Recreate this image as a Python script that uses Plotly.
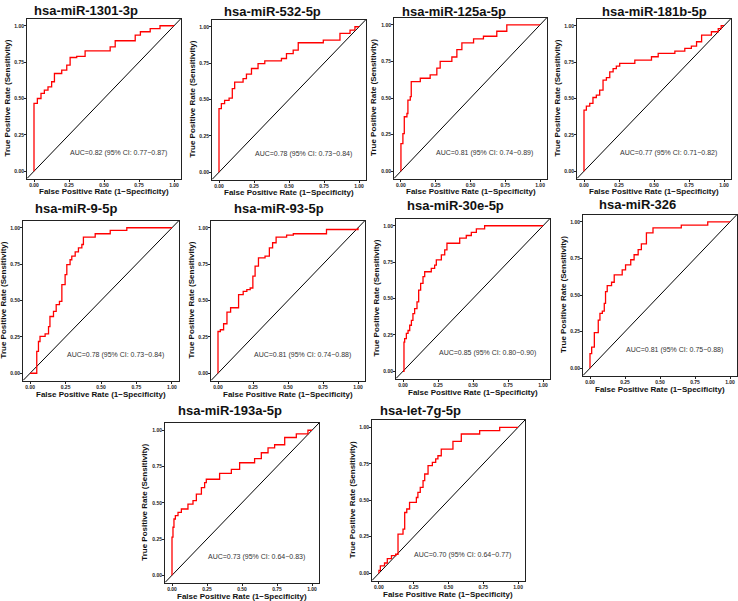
import plotly.graph_objects as go

W, H = 738, 601

titles = ["hsa-miR-1301-3p", "hsa-miR-532-5p", "hsa-miR-125a-5p", "hsa-miR-181b-5p",
          "hsa-miR-9-5p", "hsa-miR-93-5p", "hsa-miR-30e-5p", "hsa-miR-326",
          "hsa-miR-193a-5p", "hsa-let-7g-5p"]

auc_labels = ["AUC=0.82 (95% CI: 0.77\u22120.87)", "AUC=0.78 (95% CI: 0.73\u22120.84)",
              "AUC=0.81 (95% CI: 0.74\u22120.89)", "AUC=0.77 (95% CI: 0.71\u22120.82)",
              "AUC=0.78 (95% CI: 0.73\u22120.84)", "AUC=0.81 (95% CI: 0.74\u22120.88)",
              "AUC=0.85 (95% CI: 0.80\u22120.90)", "AUC=0.81 (95% CI: 0.75\u22120.88)",
              "AUC=0.73 (95% CI: 0.64\u22120.83)", "AUC=0.70 (95% CI: 0.64\u22120.77)"]

fpr1 = [0, 0, 0.024, 0.05, 0.074, 0.1, 0.126, 0.146, 0.198, 0.234, 0.258, 0.305, 0.365, 0.544, 0.58, 0.723, 0.76, 0.83, 0.9, 1.0]
tpr1 = [0, 0.466, 0.5, 0.535, 0.557, 0.58, 0.615, 0.672, 0.695, 0.729, 0.782, 0.79, 0.828, 0.855, 0.897, 0.936, 0.959, 0.98, 1.0, 1.0]

fpr2 = [0, 0, 0.017, 0.04, 0.072, 0.095, 0.112, 0.172, 0.196, 0.232, 0.279, 0.327, 0.446, 0.482, 0.53, 0.566, 0.745, 0.864, 0.936, 0.971, 1.0]
tpr2 = [0, 0.437, 0.471, 0.494, 0.51, 0.575, 0.62, 0.644, 0.674, 0.713, 0.747, 0.766, 0.782, 0.816, 0.839, 0.89, 0.908, 0.954, 0.977, 1.0, 1.0]

fpr3 = [0, 0, 0.014, 0.024, 0.043, 0.05, 0.067, 0.074, 0.139, 0.21, 0.258, 0.282, 0.366, 0.402, 0.438, 0.522, 0.593, 0.689, 0.761, 1.0]
tpr3 = [0, 0.188, 0.257, 0.372, 0.394, 0.486, 0.509, 0.612, 0.635, 0.658, 0.704, 0.75, 0.78, 0.83, 0.876, 0.904, 0.922, 0.956, 1.0, 1.0]

fpr4 = [0, 0, 0.017, 0.041, 0.064, 0.088, 0.112, 0.136, 0.16, 0.184, 0.208, 0.231, 0.255, 0.363, 0.482, 0.53, 0.649, 0.72, 0.767, 0.804, 0.84, 0.91, 0.959, 0.98, 1.0]
tpr4 = [0, 0.42, 0.447, 0.466, 0.507, 0.523, 0.557, 0.626, 0.644, 0.683, 0.706, 0.722, 0.741, 0.764, 0.787, 0.81, 0.826, 0.844, 0.86, 0.89, 0.936, 0.959, 0.98, 1.0, 1.0]

fpr5 = [0, 0.047, 0.059, 0.07, 0.106, 0.13, 0.14, 0.165, 0.184, 0.207, 0.224, 0.247, 0.259, 0.282, 0.294, 0.318, 0.341, 0.365, 0.376, 0.459, 0.565, 0.682, 1.0]
tpr5 = [0, 0.15, 0.218, 0.253, 0.27, 0.32, 0.39, 0.425, 0.471, 0.494, 0.609, 0.678, 0.747, 0.78, 0.805, 0.834, 0.862, 0.885, 0.936, 0.959, 0.982, 1.0, 1.0]

fpr6 = [0, 0, 0.017, 0.04, 0.064, 0.09, 0.147, 0.18, 0.206, 0.23, 0.249, 0.265, 0.289, 0.336, 0.367, 0.39, 0.415, 0.49, 0.538, 0.775, 1.0]
tpr6 = [0, 0.287, 0.299, 0.34, 0.42, 0.45, 0.54, 0.563, 0.575, 0.586, 0.667, 0.736, 0.793, 0.805, 0.862, 0.897, 0.936, 0.95, 0.959, 0.988, 1.0]

fpr7 = [0, 0.007, 0.012, 0.024, 0.036, 0.048, 0.06, 0.071, 0.083, 0.1, 0.112, 0.126, 0.143, 0.155, 0.202, 0.226, 0.238, 0.274, 0.298, 0.314, 0.405, 0.452, 0.488, 0.524, 0.583, 1.0]
tpr7 = [0, 0.2, 0.224, 0.26, 0.28, 0.316, 0.35, 0.396, 0.43, 0.477, 0.558, 0.604, 0.65, 0.684, 0.707, 0.73, 0.765, 0.8, 0.834, 0.88, 0.915, 0.933, 0.954, 0.979, 1.0, 1.0]

fpr8 = [0, 0, 0.012, 0.031, 0.059, 0.071, 0.088, 0.102, 0.111, 0.123, 0.154, 0.173, 0.23, 0.254, 0.291, 0.315, 0.344, 0.367, 0.403, 0.45, 0.652, 0.841, 1.0]
tpr8 = [0, 0.1, 0.144, 0.243, 0.328, 0.374, 0.39, 0.443, 0.523, 0.564, 0.587, 0.638, 0.672, 0.706, 0.741, 0.775, 0.81, 0.849, 0.924, 0.959, 0.977, 1.0, 1.0]

fpr9 = [0, 0, 0.007, 0.014, 0.024, 0.043, 0.067, 0.114, 0.15, 0.174, 0.21, 0.233, 0.245, 0.34, 0.424, 0.483, 0.59, 0.638, 0.686, 0.733, 0.805, 0.888, 0.971, 1.0]
tpr9 = [0, 0.263, 0.331, 0.388, 0.411, 0.434, 0.457, 0.491, 0.514, 0.559, 0.605, 0.639, 0.662, 0.703, 0.73, 0.776, 0.804, 0.845, 0.879, 0.9, 0.95, 0.975, 1.0, 1.0]

fpr10 = [0, 0, 0.01, 0.04, 0.06, 0.09, 0.12, 0.137, 0.173, 0.185, 0.2, 0.22, 0.269, 0.28, 0.297, 0.317, 0.329, 0.353, 0.384, 0.408, 0.424, 0.448, 0.532, 0.592, 0.724, 0.868, 1.0]
tpr10 = [0, 0.02, 0.05, 0.07, 0.1, 0.12, 0.13, 0.268, 0.302, 0.416, 0.44, 0.485, 0.519, 0.554, 0.588, 0.634, 0.68, 0.737, 0.76, 0.783, 0.805, 0.851, 0.904, 0.954, 0.977, 1.0, 1.0]

fprs = [fpr1, fpr2, fpr3, fpr4, fpr5, fpr6, fpr7, fpr8, fpr9, fpr10]
tprs = [tpr1, tpr2, tpr3, tpr4, tpr5, tpr6, tpr7, tpr8, tpr9, tpr10]

tick_vals = [0, 0.25, 0.5, 0.75, 1.0]
tick_text = ["0.00", "0.25", "0.50", "0.75", "1.00"]
axis_range = [-0.05, 1.05]
diag = [-0.05, 1.05]

# panel boxes in pixels: left, right, top, bottom
boxes = [(27, 181, 18.5, 178.5), (212, 366, 19.5, 179.5), (394, 547, 17.5, 178.5), (577, 731, 18.5, 178.5),
         (23, 179, 220.5, 380.5), (211, 365, 220.5, 380.5), (396, 550, 218.5, 378.5), (583, 737, 214.5, 375.5),
         (165, 319, 423, 582.5), (372, 525, 420, 580.5)]
# title positions (left x, center y) in pixels
title_pos = [(32, 11), (222, 12), (400, 12), (600, 12),
             (33, 208), (232, 208), (405, 206), (597, 205),
             (176, 411), (378, 411)]

FONT = "Liberation Sans, Arial, sans-serif"

fig = go.Figure()
layout = dict(width=W, height=H, margin=dict(l=0, r=0, t=0, b=0),
              paper_bgcolor="white", plot_bgcolor="white", showlegend=False,
              font=dict(family=FONT))
annotations = []

for i in range(10):
    n = i + 1
    sfx = "" if n == 1 else str(n)
    L, R, T, B = boxes[i]
    ax_common = dict(range=axis_range, tickvals=tick_vals, ticktext=tick_text,
                     showgrid=False, zeroline=False, showline=True, mirror=True,
                     linecolor="#222222", linewidth=1, ticks="outside", ticklen=2,
                     tickwidth=0.8, tickcolor="#222222", ticklabelstandoff=-1,
                     tickfont=dict(size=5, color="#222222", family=FONT, weight="bold"))
    layout["xaxis" + sfx] = dict(ax_common, domain=[L / W, R / W], anchor="y" + sfx)
    layout["yaxis" + sfx] = dict(ax_common, domain=[1 - B / H, 1 - T / H], anchor="x" + sfx)

    fig.add_trace(go.Scatter(x=diag, y=diag, mode="lines",
                             line=dict(color="black", width=1),
                             xaxis="x" + sfx, yaxis="y" + sfx, hoverinfo="skip"))
    fig.add_trace(go.Scatter(x=fprs[i], y=tprs[i], mode="lines", line_shape="hv",
                             line=dict(color="#ff0000", width=1.3),
                             xaxis="x" + sfx, yaxis="y" + sfx))

    annotations.append(dict(text=auc_labels[i], x=0.6, y=0.125, xref="x" + sfx, yref="y" + sfx,
                            showarrow=False, xanchor="center", yanchor="middle",
                            font=dict(size=7, color="#333333", family=FONT)))
    tx, ty = title_pos[i]
    annotations.append(dict(text=titles[i], x=tx / W, y=1 - ty / H, xref="paper", yref="paper",
                            showarrow=False, xanchor="left", yanchor="middle",
                            font=dict(size=13, color="#111111", family=FONT, weight="bold")))
    annotations.append(dict(text="False Positive Rate (1\u2212Specificity)",
                            x=(L + R) / 2 / W, y=1 - (B + 13.5) / H, xref="paper", yref="paper",
                            showarrow=False, xanchor="center", yanchor="middle", borderpad=0,
                            font=dict(size=8, color="#111111", family=FONT, weight="bold")))
    annotations.append(dict(text="True Positive Rate (Sensitivity)",
                            x=(L - 20) / W, y=1 - (T + B) / 2 / H, xref="paper", yref="paper",
                            showarrow=False, xanchor="center", yanchor="middle", textangle=-90,
                            borderpad=0,
                            font=dict(size=8, color="#111111", family=FONT, weight="bold")))

layout["annotations"] = annotations
fig.update_layout(**layout)
fig.write_html("out.html", config={"displayModeBar": False},
               post_script="document.body.style.margin='0';document.body.style.overflow='hidden';")
